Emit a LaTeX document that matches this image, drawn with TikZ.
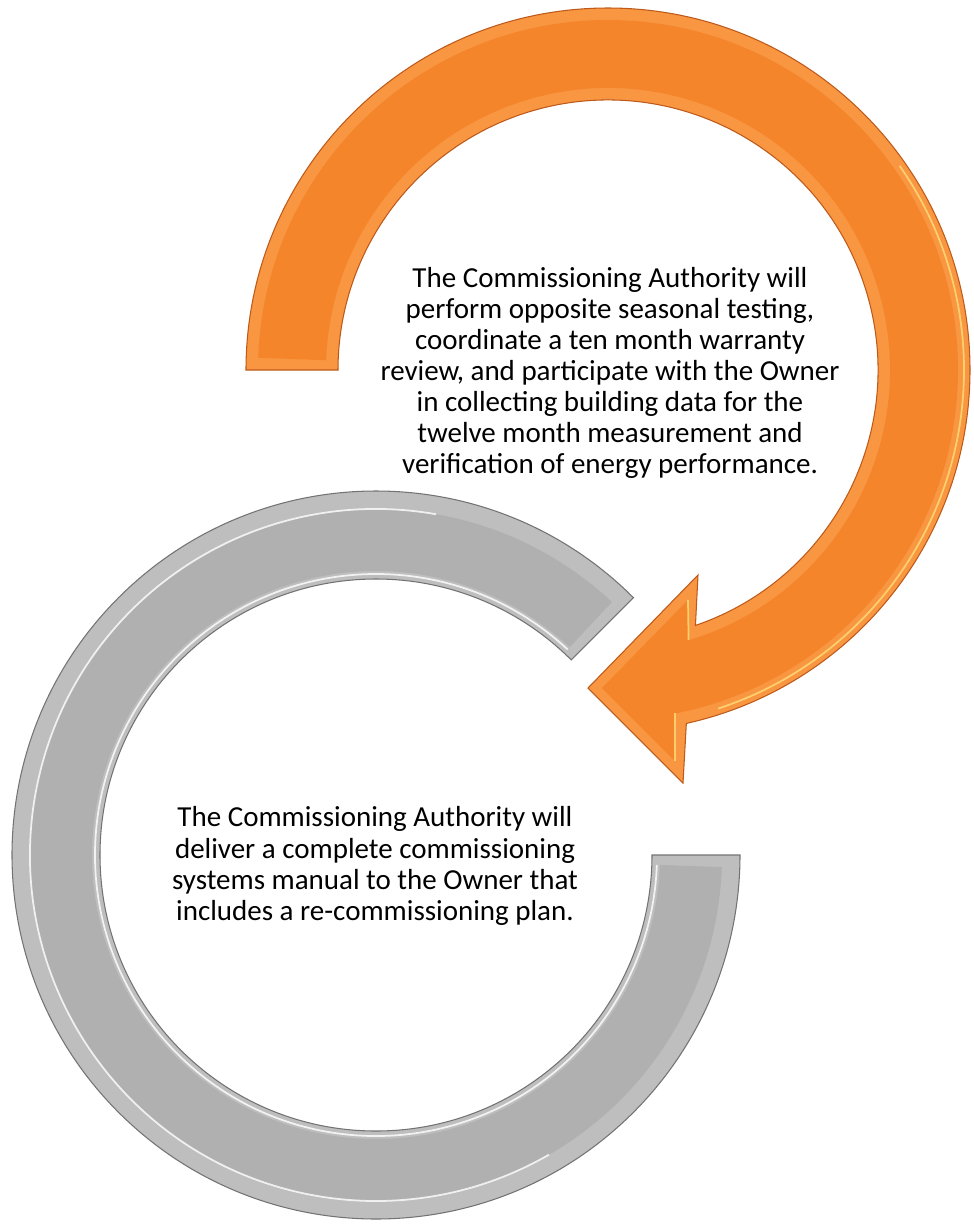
\documentclass[tikz,border=0pt]{standalone}
\usepackage{fontspec}
\setmainfont{Carlito}
\usetikzlibrary{positioning}
\definecolor{arroworange}{RGB}{245,133,42}
\definecolor{orangerim}{RGB}{248,150,66}
\definecolor{orangeedge}{RGB}{190,90,25}
\definecolor{orangeglow}{RGB}{255,222,120}
\definecolor{ringgray}{RGB}{176,176,176}
\definecolor{ringrim}{RGB}{190,190,190}
\definecolor{ringedge}{RGB}{115,115,115}

\begin{document}
\begin{tikzpicture}[x=0.02cm, y=0.02cm,
    rim/.style={line width=0.6pt, line join=miter},
    glint/.style={line width=1pt, opacity=0.8},
    bodytext/.style={align=center, inner sep=0pt, font=\fontsize{16.5}{17.7}\selectfont}]
    \useasboundingbox (0,0) rectangle (974,-1225);
    % gray ring, open at the upper right
    \begin{scope}[shift={(376,-855)}]
        \fill[ringrim, draw=ringedge, rim] (45:364) arc[start angle=45, end angle=360, radius=364]
            -- (0:276) arc[start angle=360, end angle=45, radius=276] -- cycle;
        \fill[ringgray] (47:346) arc[start angle=47, end angle=358, radius=346]
            -- (358:284) arc[start angle=358, end angle=47, radius=284] -- cycle;
        \draw[white, glint] (80:346) arc[start angle=80, end angle=300, radius=346];
        \draw[white, glint] (47:281) arc[start angle=47, end angle=358, radius=281];
    \end{scope}
    % orange arrow, curling over the top
    \begin{scope}[shift={(608,-370)}]
        \fill[orangerim, draw=orangeedge, rim] (180:362) arc[start angle=180, end angle=-77.5, radius=362]
            -- (75,-413) -- (-20,-318) -- (90,-205)
            -- (-71.1:270) arc[start angle=-71.1, end angle=180, radius=270] -- cycle;
        \fill[arroworange] (178:350) arc[start angle=178, end angle=-78.9, radius=350]
            -- (67,-391) -- (-6,-318) -- (80,-230)
            -- (-73.4:282) arc[start angle=-73.4, end angle=178, radius=282] -- cycle;
        \draw[orangeglow, glint] (35:356) arc[start angle=35, end angle=-72, radius=356];
        \draw[orangeglow, glint] (80,-230) -- (80.6,-270);
        \draw[orangeglow, glint] (67,-391) -- (67,-343);
    \end{scope}
    \node[bodytext] (topnote) at (610,-373) {The Commissioning Authority will\\
        perform opposite seasonal testing,\\coordinate a ten month warranty\\
        review, and participate with the Owner\\in collecting building data for the\\
        twelve month measurement and\\verification of energy performance.};
    \node[bodytext] (bottomnote) at (375,-866) {The Commissioning Authority will\\
        deliver a complete commissioning\\systems manual to the Owner that\\
        includes a re-commissioning plan.};
\end{tikzpicture}
\end{document}
